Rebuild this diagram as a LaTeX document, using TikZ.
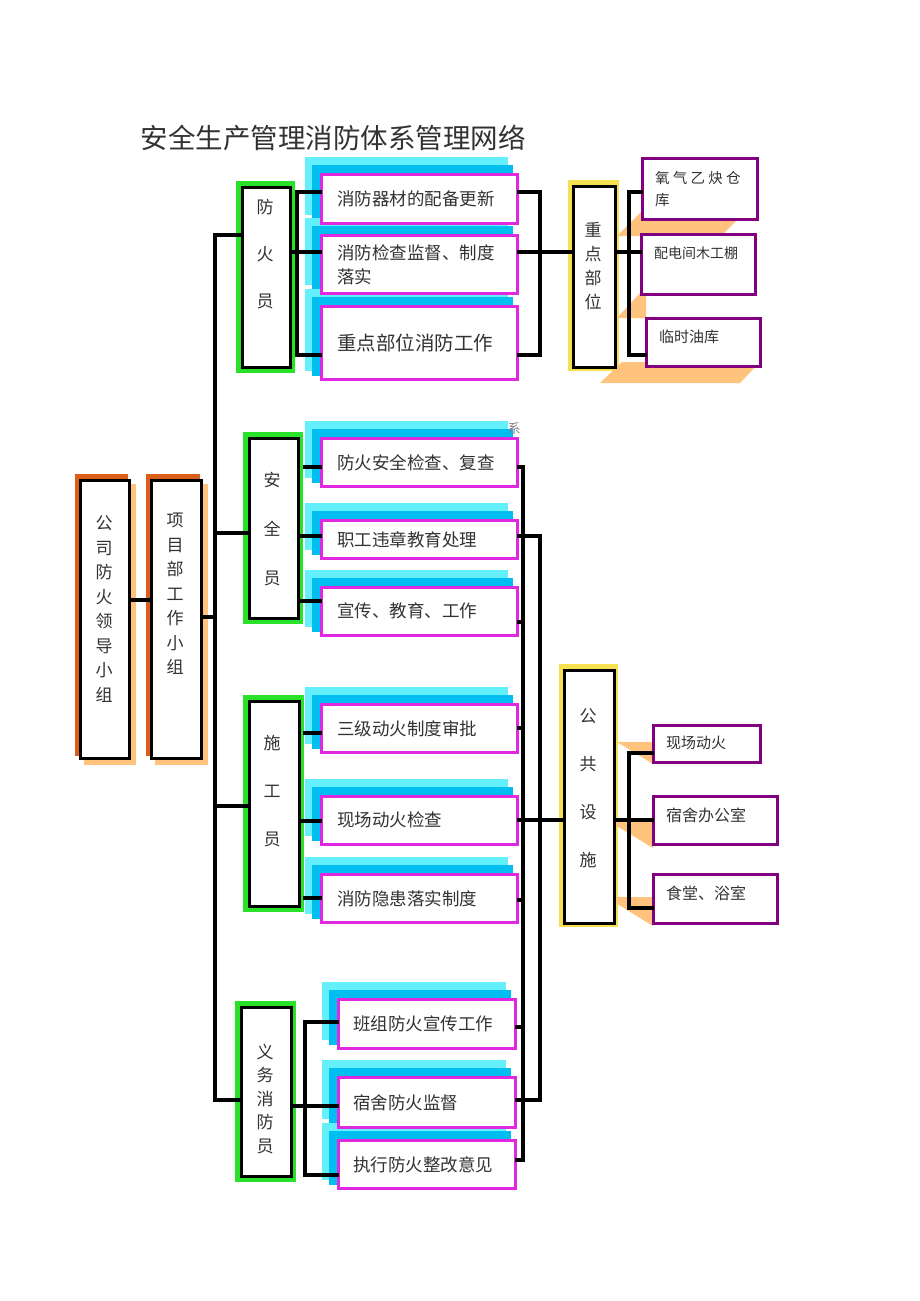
\documentclass[tikz,border=0pt]{standalone}
\usepackage{fontspec}
\setmainfont{Noto Sans CJK SC}
\usetikzlibrary{backgrounds}
\definecolor{mag}{RGB}{225,40,225}
\definecolor{lcyan}{RGB}{100,240,250}
\definecolor{dcyan}{RGB}{0,190,240}
\definecolor{grn}{RGB}{40,225,40}
\definecolor{orng}{RGB}{220,95,25}
\definecolor{peach}{RGB}{255,195,125}
\definecolor{yel}{RGB}{245,225,80}
\definecolor{pur}{RGB}{128,0,128}
\definecolor{txt}{RGB}{50,50,50}
\tikzset{
  wire/.style={draw=black, line width=3.2pt, line cap=rect},
  blk/.style={draw=black, line width=2.8pt, fill=white, inner sep=0pt, anchor=north west},
  task/.style={draw=mag, line width=2.6pt, fill=white, anchor=north west, text width=164pt,
    inner xsep=16pt, inner ysep=0pt, align=left, minimum height=#1,
    font=\fontsize{17.5}{24}\selectfont, text=txt},
  pbox/.style={draw=pur, line width=2.6pt, fill=white, inner sep=0pt, anchor=north west},
  ptext/.style={anchor=west, inner sep=0pt, align=left, text=txt},
  vt/.style={align=center, inner sep=0pt, text=txt}
}
\begin{document}
\begin{tikzpicture}[x=1pt,y=-1pt]
\useasboundingbox (0,0) rectangle (920,1301);

% title
\node[font=\fontsize{27.5}{30}\selectfont, text=txt] (title) at (333,138) {安全生产管理消防体系管理网络};

% left boxes
\node[blk, minimum width=49pt, minimum height=278pt] (A) at (79,479) {};
\node[blk, minimum width=50pt, minimum height=278pt] (B) at (150,479) {};
\node[vt, font=\fontsize{17}{24.5}\selectfont] (At) at (104,609) {公\\司\\防\\火\\领\\导\\小\\组};
\node[vt, font=\fontsize{17}{24.5}\selectfont] (Bt) at (175,594) {项\\目\\部\\工\\作\\小\\组};

% role boxes
\node[blk, minimum width=48pt, minimum height=180pt] (fhy) at (241,186) {};
\node[blk, minimum width=49pt, minimum height=180pt] (aqy) at (248,437) {};
\node[blk, minimum width=50pt, minimum height=205pt] (sgy) at (248,700) {};
\node[blk, minimum width=50pt, minimum height=169pt] (ywy) at (240,1006) {};
\node[vt, font=\fontsize{17}{47}\selectfont] (fhyt) at (265,254) {防\\火\\员};
\node[vt, font=\fontsize{17}{49}\selectfont] (aqyt) at (272,529) {安\\全\\员};
\node[vt, font=\fontsize{17}{48}\selectfont] (sgyt) at (272,791) {施\\工\\员};
\node[vt, font=\fontsize{17}{23.5}\selectfont] (ywyt) at (265,1099) {义\\务\\消\\防\\员};

% hub boxes
\node[blk, minimum width=42pt, minimum height=181pt] (zd) at (572,185) {};
\node[blk, minimum width=50pt, minimum height=253pt] (gg) at (563,669) {};
\node[vt, font=\fontsize{17}{24}\selectfont] (zdt) at (593,266) {重\\点\\部\\位};
\node[vt, font=\fontsize{17}{48}\selectfont] (ggt) at (588,788) {公\\共\\设\\施};

% task boxes
\node[task=49pt] (t11) at (320,173) {消防器材的配备更新};
\node[task=58pt] (t12) at (320,234) {消防检查监督、制度\\落实};
\node[task=73pt, font=\fontsize{19.5}{24}\selectfont] (t13) at (320,305) {重点部位消防工作};
\node[task=48pt] (t21) at (320,437) {防火安全检查、复查};
\node[task=38pt] (t22) at (320,519) {职工违章教育处理};
\node[task=48pt] (t23) at (320,586) {宣传、教育、工作};
\node[task=48pt] (t31) at (320,703) {三级动火制度审批};
\node[task=48pt] (t32) at (320,795) {现场动火检查};
\node[task=48pt] (t33) at (320,873) {消防隐患落实制度};
\node[task=49pt, text width=147pt, inner xsep=15pt] (t41) at (337,998) {班组防火宣传工作};
\node[task=50pt, text width=147pt, inner xsep=15pt] (t42) at (337,1076) {宿舍防火监督};
\node[task=48pt, text width=147pt, inner xsep=15pt] (t43) at (337,1139) {执行防火整改意见};
\node[font=\fontsize{13}{13}\selectfont, text=gray, inner sep=0pt] (frag) at (514,429) {系};

% purple boxes
\node[pbox, minimum width=115pt, minimum height=61pt] (o1) at (641,157) {};
\node[pbox, minimum width=114pt, minimum height=60pt] (o2) at (640,233) {};
\node[pbox, minimum width=114pt, minimum height=48pt] (o3) at (645,317) {};
\node[pbox, minimum width=107pt, minimum height=37pt] (p1) at (652,724) {};
\node[pbox, minimum width=124pt, minimum height=48pt] (p2) at (652,795) {};
\node[pbox, minimum width=124pt, minimum height=49pt] (p3) at (652,873) {};
\node[ptext, font=\fontsize{14.5}{22}\selectfont] (o1t) at (655,189) {氧 气 乙 炔 仓\\库};
\node[ptext, font=\fontsize{14}{16}\selectfont] (o2t) at (654,253) {配电间木工棚};
\node[ptext, font=\fontsize{15}{16}\selectfont] (o3t) at (659,337) {临时油库};
\node[ptext, font=\fontsize{15}{16}\selectfont] (p1t) at (666,743) {现场动火};
\node[ptext, font=\fontsize{16}{17}\selectfont] (p2t) at (666,815) {宿舍办公室};
\node[ptext, font=\fontsize{16}{17}\selectfont] (p3t) at (666,893) {食堂、浴室};

% background decorations
\begin{scope}[on background layer]
  \foreach \b in {A,B} {
    \fill[peach] ([shift={(5pt,-5pt)}]\b.north west) rectangle ([shift={(5pt,-5pt)}]\b.south east);
    \fill[orng] ([shift={(-4pt,5pt)}]\b.north west) rectangle ([shift={(-3pt,4pt)}]\b.south east);
  }
  \foreach \b in {fhy,aqy,sgy,ywy}
    \fill[grn] ([shift={(-5pt,5pt)}]\b.north west) rectangle ([shift={(3pt,-4pt)}]\b.south east);
  \foreach \b in {zd,gg}
    \fill[yel] ([shift={(-4pt,5pt)}]\b.north west) rectangle ([shift={(2pt,-2pt)}]\b.south east);
  \foreach \t in {t11,t12,t13,t21,t22,t23,t31,t32,t33,t41,t42,t43} {
    \fill[lcyan] ([shift={(-15pt,16pt)}]\t.north west) rectangle ([shift={(-11pt,10pt)}]\t.south east);
    \fill[dcyan] ([shift={(-8pt,8pt)}]\t.north west) rectangle ([shift={(-6pt,5pt)}]\t.south east);
  }
  \fill[peach] (617,236) -- (641,212) -- (745,212) -- (721,236) -- cycle;
  \fill[peach] (617,318) -- (641,292) -- (646,292) -- (646,318) -- cycle;
  \fill[peach] (600,383) -- (622,362) -- (760,362) -- (740,383) -- cycle;
  \fill[peach] (617,742) -- (653,742) -- (653,764) -- cycle;
  \fill[peach] (607,820) -- (653,820) -- (653,848) -- cycle;
  \fill[peach] (606,897) -- (653,897) -- (653,926) -- cycle;
\end{scope}

% connectors: trunk
\coordinate (j0) at (215,617);
\coordinate (j1) at (215,235);
\coordinate (j2) at (215,533);
\coordinate (j3) at (215,806);
\coordinate (j4) at (215,1100);
\coordinate (ab) at (140,600);
\draw[wire] (j1) -- (j4);
\draw[wire] (j1) -- (j1 -| fhy.west);
\draw[wire] (j2) -- (j2 -| aqy.west);
\draw[wire] (j3) -- (j3 -| sgy.west);
\draw[wire] (j4) -- (j4 -| ywy.west);
\draw[wire] (j0 -| B.east) -- (j0);
\draw[wire] (ab -| A.east) -- (ab -| B.west);

% group 1
\coordinate (g1a) at (297,192);
\coordinate (g1m) at (297,252);
\coordinate (g1b) at (297,355);
\draw[wire] (g1a -| t11.west) -- (g1a) -- (g1b) -- (g1b -| t13.west);
\draw[wire] (g1m -| fhy.east) -- (g1m -| t12.west);
\coordinate (r1a) at (540,192);
\coordinate (r1m) at (540,252);
\coordinate (r1b) at (540,355);
\draw[wire] (r1a -| t11.east) -- (r1a) -- (r1b) -- (r1b -| t13.east);
\draw[wire] (r1m -| t12.east) -- (r1m -| zd.west);
\coordinate (s1a) at (629,192);
\coordinate (s1m) at (629,252);
\coordinate (s1b) at (629,355);
\draw[wire] (s1a -| o1.west) -- (s1a) -- (s1b) -- (s1b -| o3.west);
\draw[wire] (s1m -| zd.east) -- (s1m -| o2.west);

% group 2 left
\coordinate (g2a) at (305,467);
\coordinate (g2m) at (297,536);
\coordinate (g2b) at (297,601);
\draw[wire] (g2a) -- (g2a -| t21.west);
\draw[wire] (g2m -| aqy.east) -- (g2m -| t22.west);
\draw[wire] (g2b -| aqy.east) -- (g2b -| t23.west);
% group 3 left
\coordinate (g3a) at (305,733);
\coordinate (g3m) at (297,821);
\coordinate (g3b) at (305,898);
\draw[wire] (g3a) -- (g3a -| t31.west);
\draw[wire] (g3m -| sgy.east) -- (g3m -| t32.west);
\draw[wire] (g3b) -- (g3b -| t33.west);
% group 4 left
\coordinate (g4a) at (305,1022);
\coordinate (g4m) at (305,1106);
\coordinate (g4b) at (305,1175);
\draw[wire] (g4a -| t41.west) -- (g4a) -- (g4b) -- (g4b -| t43.west);
\draw[wire] (g4m -| ywy.east) -- (g4m -| t42.west);

% right buses
\coordinate (ra) at (523,467);
\coordinate (rb) at (523,1160);
\coordinate (qa) at (540,536);
\coordinate (qb) at (540,1100);
\draw[wire] (ra -| t21.east) -- (ra) -- (rb) -- (rb -| t43.east);
\draw[wire] (qa -| t22.east) -- (qa) -- (qb) -- (qb -| t42.east);
\coordinate (c23) at (523,622);
\coordinate (c31) at (523,728);
\coordinate (c33) at (523,900);
\coordinate (c41) at (523,1027);
\coordinate (c32) at (540,820);
\draw[wire] (c23 -| t23.east) -- (c23);
\draw[wire] (c31 -| t31.east) -- (c31);
\draw[wire] (c33 -| t33.east) -- (c33);
\draw[wire] (c41 -| t41.east) -- (c41);
\draw[wire] (c32 -| t32.east) -- (c32 -| gg.west);

% public facilities
\coordinate (pa) at (629,753);
\coordinate (pm) at (629,820);
\coordinate (pb) at (629,908);
\draw[wire] (pa -| p1.west) -- (pa) -- (pb) -- (pb -| p3.west);
\draw[wire] (pm -| gg.east) -- (pm -| p2.west);
\end{tikzpicture}
\end{document}
